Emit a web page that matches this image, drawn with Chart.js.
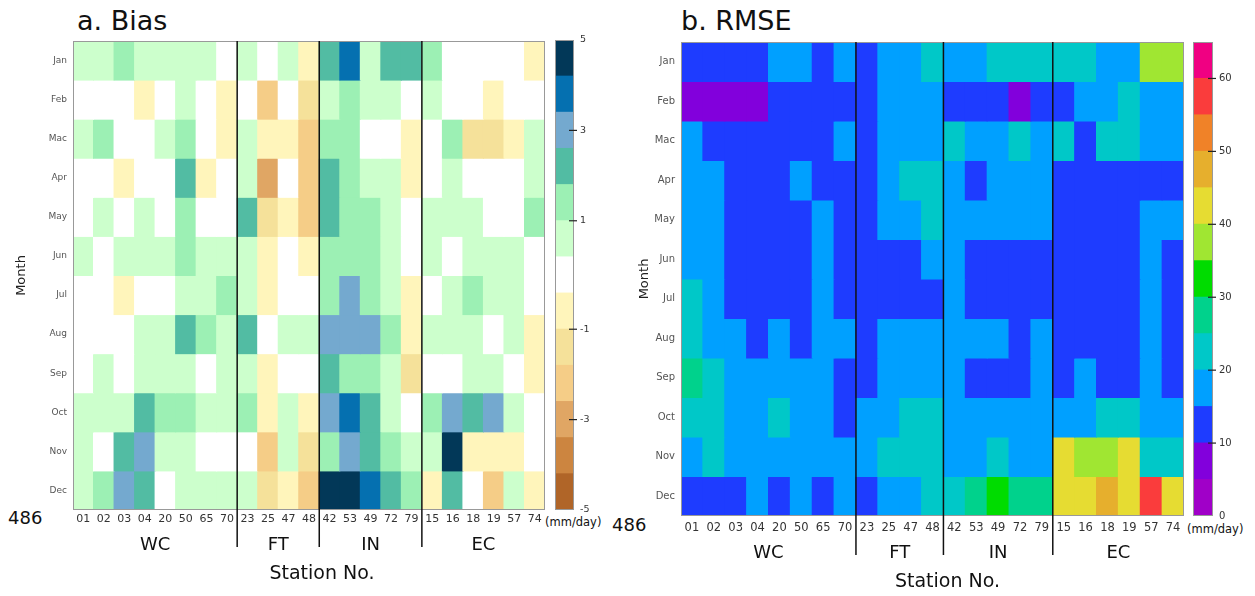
<!DOCTYPE html>
<html>
<head>
<meta charset="utf-8">
<title>Bias and RMSE by station and month</title>
<script src="https://cdn.jsdelivr.net/npm/chart.js@4.4.1/dist/chart.umd.min.js"></script>
<style>
  html, body { margin: 0; padding: 0; background: #fff; }
  body { width: 1255px; height: 596px; position: relative; overflow: hidden;
         font-family: 'DejaVu Sans', sans-serif; color: #111; }
  canvas { position: absolute; top: 0; }
  .lbl { position: absolute; white-space: nowrap; line-height: 1; }
</style>
</head>
<body>
<div class="lbl" style="left:77px; top:7px; font-size:27px;">a. Bias</div>
<div class="lbl" style="left:681px; top:7px; font-size:27px;">b. RMSE</div>
<div class="lbl" style="left:8px; top:509px; font-size:18px;">486</div>
<div class="lbl" style="left:612px; top:516px; font-size:18px;">486</div>
<div class="lbl" style="left:545px; top:517px; font-size:11.5px;">(mm/day)</div>
<div class="lbl" style="left:1187px; top:524px; font-size:11.5px;">(mm/day)</div>

<canvas id="biasMap" width="552" height="596" style="left:0"></canvas>
<canvas id="biasBar" width="70" height="596" style="left:545px"></canvas>
<canvas id="rmseMap" width="590" height="596" style="left:600px"></canvas>
<canvas id="rmseBar" width="62" height="596" style="left:1183px"></canvas>

<script>
// ─── Data ───
const months = ['Jan', 'Feb', 'Mac', 'Apr', 'May', 'Jun', 'Jul', 'Aug', 'Sep', 'Oct', 'Nov', 'Dec'];
const stations = ['01', '02', '03', '04', '20', '50', '65', '70',
                  '23', '25', '47', '48',
                  '42', '53', '49', '72', '79',
                  '15', '16', '18', '19', '57', '74'];
const groupNames = ['WC', 'FT', 'IN', 'EC'];
const groupSizes = [8, 4, 5, 6];

// bias (mm/day), one row per month, stations in the order above
const bias = [
    [0.6, 0.6, 1.4, 0.6, 0.6, 0.6, 0.6, 0, 0.6, 0, 0.6, -0.6, 2.2, 3.8, 0.6, 2.2, 2.2, 1.4, 0, 0, 0, 0, -0.6],
    [0, 0, 0, -0.6, 0, 0.6, 0, -0.6, 0, -2.2, 0, -1.4, 0.6, 1.4, 0.6, 0.6, 0, 0.6, 0, 0, -0.6, 0, 0],
    [0.6, 1.4, 0, 0, 0.6, 1.4, 0, -0.6, 0.6, -0.6, -0.6, -2.2, 1.4, 1.4, 0, 0, -0.6, 0, 1.4, -1.4, -1.4, -0.6, 0.6],
    [0, 0, -0.6, 0, 0, 2.2, -0.6, 0, 0.6, -3.0, 0, -2.2, 2.2, 1.4, 0.6, 0.6, -0.6, 0, 0.6, 0, 0, 0, 0.6],
    [0, 0.6, 0, 0.6, 0, 1.4, 0, 0, 2.2, -1.4, -0.6, -2.2, 2.2, 1.4, 1.4, 0.6, 0, 0.6, 0.6, 0.6, 0, 0, 1.4],
    [0.6, 0, 0.6, 0.6, 0.6, 1.4, 0.6, 0.6, 0.6, -0.6, 0, -0.6, 1.4, 1.4, 1.4, 0.6, 0, 0.6, 0, 0.6, 0.6, 0.6, 0],
    [0, 0, -0.6, 0, 0, 0.6, 0.6, 1.4, 0.6, -0.6, 0, 0, 1.4, 3.0, 1.4, 0.6, -0.6, 0, 0.6, 1.4, 0.6, 0.6, 0],
    [0, 0, 0, 0.6, 0.6, 2.2, 1.4, 0.6, 2.2, 0, 0.6, 0.6, 3.0, 3.0, 3.0, 1.4, -0.6, 0.6, 0.6, 0.6, 0, 0.6, -0.6],
    [0, 0.6, 0, 0.6, 0.6, 0.6, 0, 0.6, 0.6, -0.6, 0, 0, 2.2, 1.4, 1.4, 0.6, -1.4, 0, 0, 0.6, 0.6, 0, -0.6],
    [0.6, 0.6, 0.6, 2.2, 1.4, 1.4, 0.6, 0.6, 1.4, -0.6, 0.6, -0.6, 3.0, 3.8, 2.2, 0.6, 0, 1.4, 3.0, 2.2, 3.0, 0.6, 0],
    [0.6, 0, 2.2, 3.0, 0.6, 0.6, 0, 0, 0, -2.2, 0.6, -1.4, 1.4, 3.0, 2.2, 1.4, 0.6, 0.6, 4.6, -0.6, -0.6, -0.6, 0],
    [0.6, 1.4, 3.0, 2.2, 0, 0.6, 0.6, 0.6, 0.6, -1.4, -0.6, -2.2, 4.6, 4.6, 3.8, 2.2, 1.4, -0.6, 2.2, 0, -2.2, 0.6, -0.6]
];

// RMSE (mm/day)
const rmse = [
    [12, 12, 12, 12, 17, 17, 12, 17, 12, 17, 17, 22, 17, 17, 22, 22, 22, 22, 22, 17, 17, 37, 37],
    [7, 7, 7, 7, 12, 12, 12, 12, 12, 17, 17, 17, 12, 12, 12, 7, 12, 12, 17, 17, 22, 17, 17],
    [17, 12, 12, 12, 12, 12, 12, 17, 12, 17, 17, 17, 22, 17, 17, 22, 17, 22, 12, 22, 22, 17, 17],
    [17, 17, 12, 12, 12, 17, 12, 12, 12, 17, 22, 22, 17, 12, 17, 17, 17, 12, 12, 12, 12, 12, 12],
    [17, 17, 12, 12, 12, 12, 17, 12, 12, 17, 17, 22, 17, 17, 17, 17, 17, 12, 12, 12, 12, 17, 17],
    [17, 17, 12, 12, 12, 12, 17, 12, 12, 12, 12, 17, 17, 12, 12, 12, 12, 12, 12, 12, 12, 17, 12],
    [22, 17, 12, 12, 12, 12, 17, 12, 12, 12, 12, 12, 17, 12, 12, 12, 12, 12, 12, 12, 12, 17, 12],
    [22, 17, 17, 12, 17, 12, 17, 17, 12, 17, 17, 17, 17, 17, 17, 12, 17, 12, 12, 12, 12, 17, 12],
    [27, 22, 17, 17, 17, 17, 17, 12, 12, 17, 17, 17, 17, 12, 12, 12, 17, 12, 17, 12, 12, 17, 12],
    [22, 22, 17, 17, 22, 17, 17, 12, 17, 17, 22, 22, 17, 17, 17, 17, 17, 17, 17, 22, 22, 17, 17],
    [17, 22, 17, 17, 17, 17, 17, 17, 17, 22, 22, 22, 17, 17, 22, 17, 17, 42, 37, 37, 42, 22, 22],
    [12, 12, 12, 17, 12, 17, 12, 17, 12, 17, 17, 22, 22, 27, 32, 27, 27, 42, 42, 47, 42, 57, 42]
];

// ─── Colour levels ───
const biasEdges = [-5, -4.2, -3.4, -2.6, -1.8, -1, -0.333, 0.333, 1, 1.8, 2.6, 3.4, 4.2, 5];
const biasColors = ['#b06528', '#cc8540', '#e0a664', '#f5cd87', '#f5e19a', '#fff5bb', '#ffffff',
                    '#ccffcc', '#9cf0b4', '#52bca3', '#74a9cf', '#0570b0', '#023858'];
const biasTicks = [-5, -3, -1, 1, 3, 5];

const rmseEdges = [0, 5, 10, 15, 20, 25, 30, 35, 40, 45, 50, 55, 60, 65];
const rmseColors = ['#a000c8', '#8200dc', '#1e3cff', '#00a0ff', '#00c8c8', '#00d28c', '#00dc00',
                    '#a0e632', '#e6dc32', '#e6af2d', '#f08228', '#fa3c3c', '#f00082'];
const rmseTicks = [0, 10, 20, 30, 40, 50, 60];

Chart.defaults.font.family = "'DejaVu Sans', sans-serif";
Chart.defaults.color = '#333';
Chart.defaults.animation = false;

function binOf(v, edges) {
    for (let i = 0; i < edges.length - 2; i++) {
        if (v < edges[i + 1]) return i;
    }
    return edges.length - 2;
}

// position of a value along the colour bar, in box units
function posOf(v, edges) {
    const i = Math.min(binOf(v, edges), edges.length - 2);
    return i + (v - edges[i]) / (edges[i + 1] - edges[i]);
}

// ─── Plugins ───
const groupPlugin = {
    id: 'groups',
    afterDraw(chart, args, o) {
        const { ctx, chartArea: a, scales: { x } } = chart;
        const half = (x.getPixelForValue(1) - x.getPixelForValue(0)) / 2;
        ctx.save();
        ctx.strokeStyle = '#999';
        ctx.lineWidth = 1;
        ctx.strokeRect(a.left + 0.5, a.top + 0.5, a.width - 1, a.height - 1);

        ctx.fillStyle = '#111';
        ctx.textAlign = 'center';
        ctx.textBaseline = 'middle';
        ctx.font = "18px 'DejaVu Sans', sans-serif";
        let start = 0;
        groupNames.forEach((g, gi) => {
            const end = start + groupSizes[gi];
            const left = x.getPixelForValue(start) - half;
            const right = x.getPixelForValue(end - 1) + half;
            if (gi > 0) {
                ctx.strokeStyle = '#111';
                ctx.lineWidth = 1.5;
                ctx.beginPath();
                ctx.moveTo(left, a.top);
                ctx.lineTo(left, o.lineEnd);
                ctx.stroke();
            }
            ctx.fillText(g, (left + right) / 2, o.groupY);
            start = end;
        });
        ctx.font = "19px 'DejaVu Sans', sans-serif";
        ctx.fillText('Station No.', (a.left + a.right) / 2 + o.titleShift, o.titleY);
        ctx.restore();
    }
};

const barFramePlugin = {
    id: 'barFrame',
    afterDraw(chart, args, o) {
        const { ctx, chartArea: a, scales: { y } } = chart;
        ctx.save();
        ctx.strokeStyle = '#999';
        ctx.lineWidth = 1;
        ctx.strokeRect(a.left + 0.5, a.top + 0.5, a.width - 1, a.height - 1);
        ctx.strokeStyle = '#222';
        ctx.lineWidth = 1.2;
        o.marks.forEach(p => {
            const py = y.getPixelForValue(p);
            ctx.beginPath();
            ctx.moveTo(a.right - 5, py);
            ctx.lineTo(a.right + 3, py);
            ctx.stroke();
        });
        ctx.restore();
    }
};

// ─── Heat map ───
function createHeatmap(canvasId, rows, edges, colors, cfg) {
    const ctx = document.getElementById(canvasId).getContext('2d');
    const n = months.length;
    const datasets = months.map((m, mi) => ({
        label: m,
        data: stations.map(() => [n - 1 - mi, n - mi]),
        backgroundColor: rows[mi].map(v => colors[binOf(v, edges)]),
        grouped: false,
        barPercentage: 1,
        categoryPercentage: 1,
        borderWidth: 0,
        inflateAmount: 0.5
    }));

    return new Chart(ctx, {
        type: 'bar',
        data: { labels: stations, datasets },
        options: {
            responsive: false,
            devicePixelRatio: 1,
            layout: { padding: cfg.padding },
            plugins: {
                legend: { display: false },
                tooltip: { enabled: false },
                groups: cfg.groups
            },
            scales: {
                x: {
                    grid: { display: false, drawTicks: false },
                    border: { display: false },
                    ticks: { font: { size: cfg.xFont }, color: '#333', padding: cfg.xPad,
                             maxRotation: 0, autoSkip: false },
                    afterFit: s => { s.height = cfg.xHeight; }
                },
                y: {
                    min: 0,
                    max: n,
                    grid: { display: false, drawTicks: false },
                    border: { display: false },
                    afterBuildTicks: s => { s.ticks = months.map((m, i) => ({ value: n - 0.5 - i })); },
                    ticks: {
                        callback: v => months[Math.round(n - 0.5 - v)],
                        font: { size: cfg.yFont },
                        color: '#555',
                        padding: 6,
                        autoSkip: false
                    },
                    title: { display: true, text: 'Month', font: { size: 13 }, color: '#222', padding: 0 },
                    afterFit: s => { s.width = cfg.yWidth; }
                }
            }
        },
        plugins: [groupPlugin]
    });
}

// ─── Colour bar ───
function createColorBar(canvasId, edges, colors, tickVals, cfg) {
    const ctx = document.getElementById(canvasId).getContext('2d');
    const nb = colors.length;
    const tickPos = tickVals.map(v => posOf(v, edges));
    const datasets = colors.map((c, i) => ({
        data: [[i, i + 1]],
        backgroundColor: c,
        grouped: false,
        barPercentage: 1,
        categoryPercentage: 1,
        borderWidth: 0,
        inflateAmount: 0.5
    }));

    return new Chart(ctx, {
        type: 'bar',
        data: { labels: [''], datasets },
        options: {
            responsive: false,
            devicePixelRatio: 1,
            layout: { padding: cfg.padding },
            plugins: {
                legend: { display: false },
                tooltip: { enabled: false },
                barFrame: { marks: tickPos.filter(p => p > 0 && p < nb) }
            },
            scales: {
                x: { display: false },
                y: {
                    position: 'right',
                    min: 0,
                    max: nb,
                    grid: { display: false, drawTicks: false },
                    border: { display: false },
                    afterBuildTicks: s => { s.ticks = tickPos.map(p => ({ value: p })); },
                    ticks: {
                        callback: (v, i) => String(tickVals[i]),
                        font: { size: cfg.font },
                        color: '#333',
                        padding: 6,
                        autoSkip: false
                    },
                    afterFit: s => { s.width = cfg.axisWidth; }
                }
            }
        },
        plugins: [barFramePlugin]
    });
}

createHeatmap('biasMap', bias, biasEdges, biasColors, {
    padding: { top: 41, left: 14, right: 7, bottom: 0 },
    xHeight: 86, yWidth: 59, xFont: 11, yFont: 9, xPad: 3,
    groups: { lineEnd: 547, groupY: 545, titleY: 574, titleShift: 13 }
});
createColorBar('biasBar', biasEdges, biasColors, biasTicks, {
    padding: { top: 40, left: 10, right: 0, bottom: 86 },
    axisWidth: 41, font: 9.5
});

createHeatmap('rmseMap', rmse, rmseEdges, rmseColors, {
    padding: { top: 42, left: 37, right: 6, bottom: 0 },
    xHeight: 80, yWidth: 44, xFont: 11.5, yFont: 10, xPad: 5,
    groups: { lineEnd: 555, groupY: 553, titleY: 582, titleShift: 15 }
});
createColorBar('rmseBar', rmseEdges, rmseColors, rmseTicks, {
    padding: { top: 42, left: 10, right: 0, bottom: 80 },
    axisWidth: 32, font: 10
});
</script>
</body>
</html>
